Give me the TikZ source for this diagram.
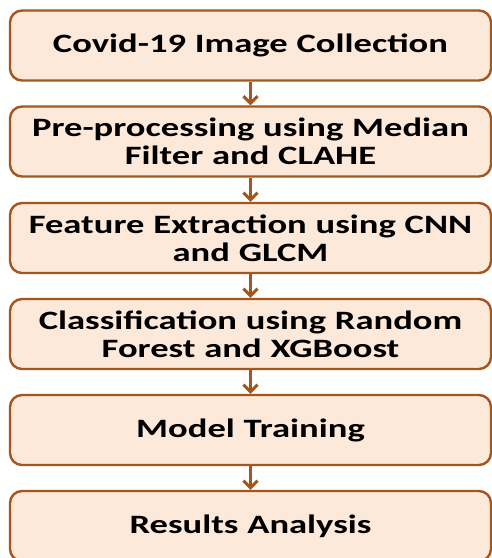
\documentclass[tikz,border=0pt]{standalone}
\usepackage{fontspec}
\setmainfont{Carlito}
\newfontfamily\stagefont{Carlito}[FakeStretch=1.38]
\usetikzlibrary{arrows.meta}
\definecolor{boxline}{HTML}{A5561C}
\definecolor{boxfill}{HTML}{FDE9DA}

\begin{document}
\begin{tikzpicture}[x=1pt,y=-1pt,
    stage/.style={draw=boxline,fill=boxfill,line width=2.4pt,rounded corners=12pt,
        minimum width=481pt,minimum height=70pt,text width=474pt,align=center,
        font=\stagefont\fontsize{26.5}{28}\selectfont\bfseries},
    flow/.style={draw=boxline,line width=3pt,-{Straight Barb[length=7pt,width=14pt,line width=3pt]}}]
            		\useasboundingbox (0,0) rectangle (492,558);
            		\node (s1) at (250.5,45.5) [stage] {Covid-19 Image Collection};
            		\node (s2) at (250.5,141.5) [stage] {Pre-processing using Median\\Filter and CLAHE};
            		\node (s3) at (250.5,238) [stage] {Feature Extraction using CNN\\and GLCM};
            		\node (s4) at (250.5,334) [stage] {Classification using Random\\Forest and XGBoost};
            		\node (s5) at (250.5,430) [stage] {Model Training};
            		\node (s6) at (250.5,526) [stage] {Results Analysis};

            		\draw [flow] (s1) -- (s2);
            		\draw [flow] (s2) -- (s3);
            		\draw [flow] (s3) -- (s4);
            		\draw [flow] (s4) -- (s5);
            		\draw [flow] (s5) -- (s6);
        		\end{tikzpicture}
\end{document}
